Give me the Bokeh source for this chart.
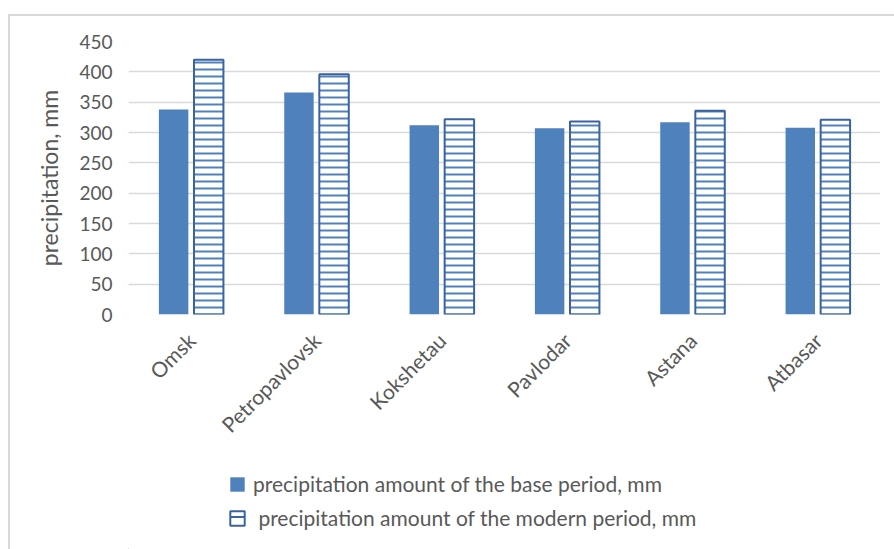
import math
from bokeh.plotting import figure
from bokeh.layouts import column
from bokeh.models import (ColumnDataSource, Range1d, FactorRange, FixedTicker,
                          Legend, LegendItem)
from bokeh.transform import dodge
from bokeh.embed import file_html
from bokeh.resources import INLINE

stations = ["Omsk", "Petropavlovsk", "Kokshetau", "Pavlodar", "Astana", "Atbasar"]
base_period = [338, 366, 312, 307, 317, 308]
modern_period = [420, 396, 322, 318, 336, 321]
y_ticks = [0, 50, 100, 150, 200, 250, 300, 350, 400, 450]
base_label = "precipitation amount of the base period, mm"
modern_label = " precipitation amount of the modern period, mm"
y_title = "precipitation, mm"

FONT = "Lato"
TXT = "#595959"
BASE_COLOR = "#4F81BD"
MOD_LINE = "#3A63A0"

src = ColumnDataSource(dict(station=stations, base=base_period, modern=modern_period))

p = figure(width=884, height=439, output_backend="svg", toolbar_location=None,
           x_range=FactorRange(*stations, range_padding=0),
           y_range=Range1d(0, 450),
           min_border_left=118, min_border_right=14, min_border_top=25,
           min_border_bottom=141)
p.outline_line_color = None
p.background_fill_color = "white"
p.border_fill_color = "white"

p.vbar(x=dodge("station", -0.14, range=p.x_range), top="base", width=0.235,
       source=src, fill_color=BASE_COLOR, line_color=None)
p.vbar(x=dodge("station", 0.14, range=p.x_range), top="modern", width=0.235,
       source=src, fill_color="white", line_color=MOD_LINE, line_width=2,
       hatch_pattern="-", hatch_scale=7, hatch_weight=2, hatch_color=BASE_COLOR)

p.xgrid.grid_line_color = None
p.ygrid.grid_line_color = "#D9D9D9"
p.ygrid.grid_line_width = 1.5
p.yaxis.ticker = FixedTicker(ticks=y_ticks)

for ax in (p.xaxis, p.yaxis):
    ax.axis_line_color = None
    ax.major_tick_line_color = None
    ax.minor_tick_line_color = None
    ax.major_label_text_font = FONT
    ax.major_label_text_color = TXT

p.yaxis.major_label_text_font_size = "19px"
p.yaxis.major_label_standoff = 10
p.yaxis.axis_label = y_title
p.yaxis.axis_label_text_font = FONT
p.yaxis.axis_label_text_font_style = "normal"
p.yaxis.axis_label_text_color = TXT
p.yaxis.axis_label_text_font_size = "23px"
p.yaxis.axis_label_standoff = 13

p.xaxis.major_label_text_font_size = "21px"
p.xaxis.major_label_orientation = math.pi / 4
p.xaxis.major_label_standoff = 16

# legend panel below the chart (swatch renderers sit outside the visible range)
lg = figure(width=884, height=94, output_backend="svg", toolbar_location=None,
            x_axis_location=None, y_axis_location=None,
            x_range=Range1d(0, 1), y_range=Range1d(0, 1),
            min_border_left=0, min_border_right=0, min_border_top=0, min_border_bottom=0)
lg.grid.visible = False
lg.outline_line_color = None
lg.background_fill_color = "white"
lg.border_fill_color = "white"
swatch = ColumnDataSource(dict(x=[-50], top=[-50], bottom=[-50]))
lr_base = lg.vbar(x="x", top="top", bottom="bottom", width=0.1, source=swatch,
                  fill_color=BASE_COLOR, line_color=None)
lr_mod = lg.vbar(x="x", top="top", bottom="bottom", width=0.1, source=swatch,
                 fill_color="white", line_color=MOD_LINE, line_width=2,
                 hatch_pattern="-", hatch_scale=14, hatch_weight=2, hatch_color=MOD_LINE)

legend = Legend(items=[LegendItem(label=base_label, renderers=[lr_base]),
                       LegendItem(label=modern_label, renderers=[lr_mod])],
                location=(100, 19), orientation="vertical",
                label_text_font=FONT, label_text_color=TXT,
                label_text_font_size="21px", glyph_width=18, glyph_height=18,
                label_height=25, spacing=9, padding=0, margin=0,
                label_standoff=7, border_line_color=None, background_fill_alpha=0)
lg.add_layout(legend, "center")

layout = column(p, lg, spacing=0)
layout.margin = (14, 0, 0, 8)
layout.styles = {"border-left": "2px solid #D9D9D9", "border-top": "2px solid #D9D9D9"}

open("out.html", "w").write(file_html(layout, INLINE))
